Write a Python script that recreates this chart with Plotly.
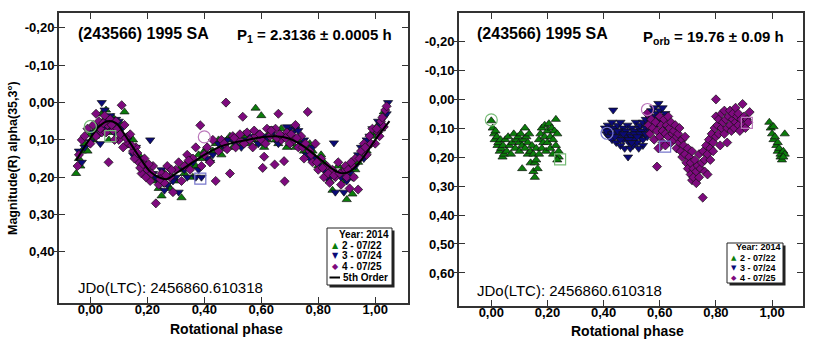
import plotly.graph_objects as go

W, H = 813, 351
def px(x): return x / W
def py(y): return 1 - y / H

# ---------------- data ----------------
phase_ticks = [0.0, 0.2, 0.4, 0.6, 0.8, 1.0]
phase_ticktext = ["0,00", "0,20", "0,40", "0,60", "0,80", "1,00"]
left_mag_ticks = [-0.2, -0.1, 0.0, 0.1, 0.2, 0.3, 0.4]
left_mag_ticktext = ["-0,20", "-0,10", "0,00", "0,10", "0,20", "0,30", "0,40"]
right_mag_ticks = [-0.2, -0.1, 0.0, 0.1, 0.2, 0.3, 0.4, 0.5, 0.6]
right_mag_ticktext = ["-0,20", "-0,10", "0,00", "0,10", "0,20", "0,30", "0,40", "0,50", "0,60"]

# Left panel: rotational period P1
l_green_phase = [-0.05, -0.04, -0.03, -0.02, -0.01, 0.00, 0.01, 0.02, 0.03, 0.04, 0.05, 0.06, 0.07, 0.08, 0.09, 0.10,
                 0.12, 0.13, 0.15, 0.17, 0.19, 0.21, 0.23, 0.25, 0.26, 0.28, 0.30, 0.32, 0.33, 0.35, 0.36, 0.38,
                 0.40, 0.42, 0.44, 0.46, 0.48, 0.50, 0.52, 0.54, 0.56, 0.58, 0.60, 0.61, 0.63, 0.65, 0.67, 0.69,
                 0.71, 0.73, 0.75, 0.77, 0.79, 0.81, 0.83, 0.85, 0.87, 0.89, 0.90, 0.92, 0.93, 0.95, 0.97, 0.99,
                 1.01, 1.03,
                 -0.035, 0.015, 0.035, 0.055, 0.065, 0.085, 0.11, 0.14, 0.16, 0.18, 0.20, 0.22, 0.24, 0.27, 0.29,
                 0.31, 0.34, 0.37, 0.39, 0.41, 0.43, 0.45, 0.47, 0.49, 0.51, 0.53, 0.55, 0.57, 0.59, 0.62, 0.64,
                 0.66, 0.68, 0.70, 0.72, 0.74, 0.76, 0.78, 0.80, 0.82, 0.84, 0.86, 0.88, 0.91, 0.94, 0.96, 0.98,
                 1.00, 1.02]
l_green_mag = [0.19, 0.15, 0.13, 0.11, 0.13, 0.085, 0.10, 0.07, 0.055, 0.03, 0.045, 0.065, 0.08, 0.04, 0.06, 0.075,
               0.025, 0.09, 0.10, 0.14, 0.16, 0.20, 0.21, 0.25, 0.19, 0.23, 0.21, 0.255, 0.19, 0.17, 0.20, 0.14,
               0.13, 0.155, 0.11, 0.14, 0.10, 0.12, 0.09, 0.085, 0.11, 0.015, 0.035, 0.12, 0.08, 0.10, 0.07, 0.12,
               0.09, 0.10, 0.13, 0.11, 0.15, 0.14, 0.19, 0.235, 0.17, 0.21, 0.26, 0.245, 0.18, 0.14, 0.13, 0.08,
               0.06, 0.025,
               0.17, 0.09, 0.08, 0.02, 0.10, 0.05, 0.06, 0.115, 0.13, 0.17, 0.18, 0.20, 0.23, 0.22, 0.20,
               0.18, 0.16, 0.17, 0.15, 0.12, 0.13, 0.10, 0.12, 0.09, 0.10, 0.11, 0.09, 0.10, 0.11, 0.10, 0.09,
               0.11, 0.09, 0.11, 0.12, 0.10, 0.12, 0.13, 0.17, 0.16, 0.21, 0.19, 0.185, 0.20, 0.16, 0.12, 0.11,
               0.09, 0.07]

l_blue_phase = [-0.04, -0.03, -0.02, 0.00, 0.01, 0.03, 0.04, 0.05, 0.06, 0.07, 0.09, 0.11, 0.13, 0.15, 0.17, 0.19,
                0.21, 0.22, 0.24, 0.26, 0.28, 0.30, 0.31, 0.33, 0.35, 0.37, 0.39, 0.41, 0.43, 0.45, 0.47, 0.50,
                0.53, 0.56, 0.59, 0.62, 0.64, 0.66, 0.68, 0.70, 0.72, 0.74, 0.76, 0.78, 0.80, 0.82, 0.84, 0.855,
                0.86, 0.88, 0.89, 0.91, 0.93, 0.95, 0.97, 0.99, 1.01, 1.03, 1.045,
                0.02, 0.035, 0.055, 0.075, 0.085, 0.10, 0.12, 0.16, 0.20, 0.23, 0.25, 0.27, 0.29, 0.34, 0.36,
                0.38, 0.42, 0.48, 0.51, 0.55, 0.58, 0.61, 0.63, 0.67, 0.69, 0.71, 0.73, 0.75, 0.77, 0.79, 0.81,
                0.83, 0.87, 0.90, 0.92, 0.94, 0.96, 0.98, 1.02, 1.04]
l_blue_mag = [0.13, 0.16, 0.12, 0.105, 0.08, 0.085, 0.0, 0.02, 0.05, 0.035, 0.045, 0.07, 0.10, 0.14, 0.15, 0.17,
              0.10, 0.19, 0.21, 0.235, 0.18, 0.20, 0.24, 0.18, 0.15, 0.20, 0.20, 0.15, 0.14, 0.11, 0.12, 0.10,
              0.12, 0.09, 0.11, 0.095, 0.08, 0.11, 0.085, 0.07, 0.07, 0.11, 0.14, 0.12, 0.16, 0.18, 0.20, 0.108,
              0.24, 0.20, 0.24, 0.19, 0.17, 0.12, 0.10, 0.07, 0.05, 0.04, 0.0,
              0.06, 0.11, 0.07, 0.06, 0.08, 0.05, 0.09, 0.12, 0.19, 0.20, 0.18, 0.22, 0.21, 0.20, 0.16,
              0.18, 0.16, 0.10, 0.11, 0.10, 0.08, 0.09, 0.07, 0.09, 0.065, 0.08, 0.075, 0.10, 0.15, 0.15, 0.17,
              0.20, 0.19, 0.21, 0.20, 0.14, 0.15, 0.09, 0.06, 0.03]

l_purple_phase = [-0.045, -0.04, -0.03, -0.02, -0.01, 0.00, 0.01, 0.02, 0.03, 0.04, 0.05, 0.06, 0.064, 0.07, 0.08,
                  0.09, 0.10, 0.11, 0.12, 0.13, 0.14, 0.15, 0.16, 0.17, 0.18, 0.19, 0.20, 0.21, 0.22, 0.23, 0.24,
                  0.25, 0.26, 0.27, 0.28, 0.29, 0.30, 0.31, 0.32, 0.34, 0.35, 0.36, 0.37, 0.386, 0.39, 0.40, 0.41,
                  0.42, 0.44, 0.45, 0.46, 0.476, 0.48, 0.49, 0.50, 0.51, 0.52, 0.535, 0.54, 0.55, 0.57, 0.58, 0.60,
                  0.605, 0.61, 0.62, 0.63, 0.647, 0.65, 0.66, 0.67, 0.68, 0.682, 0.69, 0.70, 0.72, 0.73, 0.74, 0.75,
                  0.763, 0.77, 0.78, 0.79, 0.80, 0.81, 0.82, 0.83, 0.84, 0.85, 0.86, 0.87, 0.88, 0.89, 0.90, 0.91,
                  0.92, 0.93, 0.94, 0.95, 0.96, 0.97, 0.98, 0.99, 1.00, 1.01, 1.02, 1.03, 1.035, 1.04,
                  0.02, 0.035, 0.045, 0.055, 0.075, 0.085, 0.095, 0.105, 0.115, 0.125, 0.145, 0.155, 0.165, 0.175,
                  0.185, 0.195, 0.205, 0.215, 0.245, 0.265, 0.285, 0.33, 0.345, 0.43, 0.47, 0.505, 0.525, 0.56,
                  0.575, 0.595, 0.615, 0.635, 0.655, 0.665, 0.685, 0.705, 0.715, 0.725, 0.745, 0.755, 0.775, 0.795,
                  0.815, 0.835, 0.855, 0.875, 0.895, 0.905, 0.915, 0.925, 0.945, 0.965, 0.985, 1.005, 1.015, 1.025]
l_purple_mag = [0.17, 0.14, 0.10, 0.09, 0.07, 0.11, 0.06, 0.03, 0.05, 0.08, 0.035, 0.06, 0.16, 0.045, 0.075,
                0.05, 0.10, 0.007, 0.06, 0.11, 0.085, 0.13, 0.12, 0.16, 0.19, 0.15, 0.18, 0.21, 0.17, 0.27, 0.22,
                0.19, 0.215, 0.17, 0.20, 0.24, 0.18, 0.16, 0.21, 0.14, 0.18, 0.15, 0.12, 0.061, 0.17, 0.14, 0.12,
                0.16, 0.21, 0.13, 0.10, 0.0, 0.125, 0.19, 0.09, 0.12, 0.10, 0.038, 0.11, 0.08, 0.12, 0.09, 0.10,
                0.175, 0.145, 0.07, 0.09, 0.166, 0.07, 0.03, 0.10, 0.157, 0.211, 0.08, 0.11, 0.06, 0.12, 0.09, 0.15,
                0.025, 0.13, 0.16, 0.11, 0.18, 0.15, 0.20, 0.17, 0.215, 0.18, 0.20, 0.16, 0.22, 0.185, 0.20, 0.23,
                0.17, 0.15, 0.233, 0.13, 0.11, 0.14, 0.09, 0.07, 0.11, 0.08, 0.05, 0.065, 0.02, 0.01,
                0.09, 0.07, 0.055, 0.08, 0.06, 0.10, 0.07, 0.085, 0.12, 0.095, 0.115, 0.15, 0.135, 0.175,
                0.165, 0.20, 0.165, 0.19, 0.205, 0.195, 0.18, 0.17, 0.155, 0.10, 0.11, 0.095, 0.085, 0.10,
                0.075, 0.085, 0.11, 0.075, 0.095, 0.085, 0.095, 0.085, 0.10, 0.095, 0.12, 0.11, 0.14, 0.16,
                0.175, 0.19, 0.195, 0.19, 0.17, 0.18, 0.16, 0.20, 0.15, 0.12, 0.11, 0.07, 0.09, 0.04]

fit_phase = [-0.05, 0.00, 0.03, 0.06, 0.09, 0.12, 0.15, 0.18, 0.21, 0.24, 0.27, 0.30, 0.35, 0.40, 0.45, 0.50,
             0.55, 0.60, 0.65, 0.70, 0.75, 0.80, 0.85, 0.88, 0.91, 0.95, 1.00, 1.05]
fit_mag = [0.155, 0.095, 0.065, 0.050, 0.055, 0.085, 0.120, 0.155, 0.185, 0.200, 0.205, 0.190, 0.165, 0.140,
           0.120, 0.108, 0.100, 0.093, 0.090, 0.097, 0.118, 0.148, 0.178, 0.189, 0.185, 0.155, 0.100, 0.050]

# start/end markers, left panel
l_circle_phase = [0.00, 0.40]
l_circle_mag = [0.064, 0.092]
l_circle_color = ["#77bb77", "#bb77bb"]
l_square_phase = [0.07, 0.386]
l_square_mag = [0.09, 0.204]
l_square_color = ["#77bb77", "#7777cc"]

# Right panel: orbital period
r_green_phase = [0.00, 0.005, 0.01, 0.012, 0.015, 0.02, 0.022, 0.025, 0.03, 0.033, 0.035, 0.04, 0.042, 0.045, 0.05,
                 0.055, 0.06, 0.065, 0.07, 0.075, 0.08, 0.085, 0.09, 0.095, 0.10, 0.10, 0.105, 0.11, 0.11, 0.115,
                 0.12, 0.12, 0.125, 0.13, 0.13, 0.135, 0.14, 0.14, 0.145, 0.15, 0.15, 0.155, 0.155, 0.16, 0.16,
                 0.165, 0.17, 0.17, 0.175, 0.18, 0.18, 0.185, 0.19, 0.19, 0.195, 0.20, 0.20, 0.205, 0.21, 0.21,
                 0.215, 0.22, 0.22, 0.225, 0.23, 0.23, 0.235, 0.24, 0.24, 0.235,
                 0.99, 0.995, 1.00, 1.005, 1.005, 1.01, 1.015, 1.02, 1.02, 1.025, 1.03, 1.03, 1.035, 1.04, 1.045,
                 1.045, 1.04]
r_green_mag = [0.075, 0.10, 0.12, 0.14, 0.11, 0.13, 0.16, 0.15, 0.18, 0.14, 0.17, 0.20, 0.16, 0.19, 0.14,
               0.18, 0.13, 0.16, 0.19, 0.15, 0.12, 0.17, 0.14, 0.13, 0.15, 0.18, 0.12, 0.16, 0.24, 0.14,
               0.10, 0.17, 0.13, 0.19, 0.15, 0.12, 0.18, 0.22, 0.16, 0.25, 0.19, 0.27, 0.22, 0.21, 0.17,
               0.24, 0.14, 0.19, 0.12, 0.17, 0.10, 0.15, 0.13, 0.09, 0.18, 0.11, 0.15, 0.085, 0.13, 0.17,
               0.10, 0.14, 0.19, 0.11, 0.07, 0.16, 0.12, 0.18, 0.20, 0.21,
               0.08, 0.10, 0.12, 0.095, 0.14, 0.13, 0.16, 0.15, 0.18, 0.17, 0.20, 0.19, 0.21, 0.18, 0.12,
               0.19, 0.20]

r_blue_phase = [0.405, 0.41, 0.415, 0.42, 0.42, 0.425, 0.43, 0.43, 0.434, 0.44, 0.44, 0.445, 0.45, 0.45, 0.455,
                0.46, 0.46, 0.465, 0.47, 0.47, 0.475, 0.48, 0.48, 0.485, 0.487, 0.49, 0.49, 0.495, 0.50, 0.50,
                0.505, 0.51, 0.51, 0.515, 0.52, 0.52, 0.525, 0.53, 0.53, 0.535, 0.54, 0.54, 0.545, 0.55, 0.55,
                0.555, 0.56, 0.56, 0.565, 0.57, 0.57, 0.575, 0.58, 0.58, 0.585, 0.59, 0.595, 0.60, 0.60, 0.605,
                0.61, 0.615, 0.62, 0.54, 0.525,
                0.41, 0.43, 0.45, 0.47, 0.49, 0.51, 0.53, 0.55, 0.50, 0.46, 0.44, 0.52, 0.57, 0.59, 0.60]
r_blue_mag = [0.10, 0.12, 0.09, 0.11, 0.13, 0.10, 0.14, 0.08, 0.038, 0.12, 0.10, 0.15, 0.09, 0.13, 0.11,
              0.16, 0.08, 0.12, 0.10, 0.14, 0.17, 0.11, 0.13, 0.09, 0.20, 0.15, 0.12, 0.17, 0.10, 0.13,
              0.16, 0.11, 0.14, 0.08, 0.12, 0.15, 0.10, 0.13, 0.09, 0.11, 0.14, 0.08, 0.12, 0.10, 0.07,
              0.13, 0.09, 0.06, 0.11, 0.04, 0.08, 0.06, 0.10, 0.03, 0.07, 0.05, 0.015, 0.08, 0.04, 0.06,
              0.03, 0.09, 0.05, 0.16, 0.17,
              0.11, 0.12, 0.11, 0.12, 0.14, 0.12, 0.12, 0.12, 0.15, 0.14, 0.13, 0.13, 0.10, 0.08, 0.11]

r_purple_phase = [0.555, 0.56, 0.565, 0.57, 0.575, 0.58, 0.585, 0.59, 0.59, 0.595, 0.60, 0.60, 0.605, 0.61, 0.61,
                  0.615, 0.62, 0.62, 0.625, 0.63, 0.63, 0.635, 0.64, 0.64, 0.645, 0.65, 0.65, 0.655, 0.66, 0.66,
                  0.665, 0.67, 0.67, 0.675, 0.68, 0.68, 0.685, 0.69, 0.69, 0.695, 0.70, 0.70, 0.705, 0.71, 0.71,
                  0.715, 0.715, 0.72, 0.72, 0.725, 0.73, 0.73, 0.735, 0.74, 0.74, 0.745, 0.75, 0.753, 0.755, 0.76,
                  0.76, 0.765, 0.77, 0.77, 0.775, 0.78, 0.78, 0.785, 0.79, 0.79, 0.795, 0.80, 0.80, 0.80, 0.805,
                  0.81, 0.81, 0.815, 0.82, 0.82, 0.825, 0.83, 0.83, 0.835, 0.84, 0.84, 0.845, 0.85, 0.85, 0.855,
                  0.86, 0.86, 0.865, 0.87, 0.87, 0.875, 0.88, 0.88, 0.885, 0.89, 0.895, 0.90, 0.90, 0.905, 0.91,
                  0.915, 0.92]
r_purple_mag = [0.05, 0.09, 0.12, 0.07, 0.10, 0.14, 0.08, 0.11, 0.233, 0.17, 0.06, 0.13, 0.09, 0.11, 0.15,
                0.07, 0.12, 0.16, 0.09, 0.06, 0.13, 0.10, 0.15, 0.08, 0.12, 0.11, 0.14, 0.09, 0.13, 0.17,
                0.12, 0.15, 0.10, 0.18, 0.14, 0.20, 0.16, 0.19, 0.13, 0.22, 0.17, 0.24, 0.20, 0.22, 0.26,
                0.18, 0.28, 0.24, 0.27, 0.21, 0.25, 0.29, 0.23, 0.27, 0.19, 0.24, 0.22, 0.34, 0.18, 0.21,
                0.25, 0.16, 0.19, 0.26, 0.14, 0.17, 0.21, 0.12, 0.15, 0.18, 0.10, 0.001, 0.13, 0.06, 0.09,
                0.12, 0.07, 0.16, 0.05, 0.10, 0.08, 0.12, 0.04, 0.07, 0.10, 0.15, 0.06, 0.09, 0.04, 0.11,
                0.07, 0.05, 0.10, 0.08, 0.03, 0.06, 0.09, 0.05, 0.11, 0.07, 0.017, 0.06, 0.09, 0.10, 0.07,
                0.08, 0.045]

r_circle_phase = [0.00, 0.412, 0.556]
r_circle_mag = [0.072, 0.118, 0.036]
r_circle_color = ["#77bb77", "#7777cc", "#bb77bb"]
r_square_phase = [0.245, 0.619, 0.91]
r_square_mag = [0.208, 0.164, 0.082]
r_square_color = ["#77bb77", "#7777cc", "#bb77bb"]

series_names = ["2 - 07/22", "3 - 07/24", "4 - 07/25"]
GREEN, BLUE, PURPLE = "#0b7d0b", "#0a0a78", "#7e0a7e"

# ---------------- figure ----------------
fig = go.Figure()

def add_points(xs, ys, symbol, color, size, xa, ya, name):
    fig.add_trace(go.Scatter(x=xs, y=ys, mode="markers", name=name, showlegend=False,
                             xaxis=xa, yaxis=ya,
                             marker=dict(symbol=symbol, size=size, color=color,
                                         line=dict(color="#111111", width=0.7))))

def add_open(xs, ys, symbol, colors, size, xa, ya):
    fig.add_trace(go.Scatter(x=xs, y=ys, mode="markers", showlegend=False, xaxis=xa, yaxis=ya,
                             marker=dict(symbol=symbol, size=size, color=colors,
                                         line=dict(color=colors, width=1.2))))

add_points(l_green_phase, l_green_mag, "triangle-up", GREEN, 8, "x", "y", series_names[0])
add_points(l_blue_phase, l_blue_mag, "triangle-down", BLUE, 8, "x", "y", series_names[1])
add_points(l_purple_phase, l_purple_mag, "diamond", PURPLE, 7, "x", "y", series_names[2])
fig.add_trace(go.Scatter(x=fit_phase, y=fit_mag, mode="lines", name="5th Order", showlegend=False,
                         line=dict(color="black", width=2, shape="spline"), xaxis="x", yaxis="y"))
add_open(l_circle_phase, l_circle_mag, "circle-open", l_circle_color, 12, "x", "y")
add_open(l_square_phase, l_square_mag, "square-open", l_square_color, 11, "x", "y")

add_points(r_green_phase, r_green_mag, "triangle-up", GREEN, 8, "x2", "y2", series_names[0])
add_points(r_blue_phase, r_blue_mag, "triangle-down", BLUE, 8, "x2", "y2", series_names[1])
add_points(r_purple_phase, r_purple_mag, "diamond", PURPLE, 7, "x2", "y2", series_names[2])
add_open(r_circle_phase, r_circle_mag, "circle-open", r_circle_color, 12, "x2", "y2")
add_open(r_square_phase, r_square_mag, "square-open", r_square_color, 11, "x2", "y2")

tickfont = dict(family="Liberation Sans, Arial, sans-serif", size=13, color="black", weight="bold")
axcommon = dict(showline=True, linewidth=2, linecolor="#333333", mirror="ticks", ticks="inside",
                ticklen=6, tickwidth=1, tickcolor="#333333", showgrid=False, zeroline=False,
                tickfont=tickfont)

LX = [px(59), px(408)]
RX = [px(459), px(803)]
LY = [py(303), py(13)]
RY = [py(306), py(13)]
L_YR = [0.537, -0.24]
R_YR = [0.714, -0.297]

fig.update_layout(
    width=W, height=H, margin=dict(l=0, r=0, t=0, b=0),
    paper_bgcolor="white", plot_bgcolor="white", showlegend=False,
    xaxis=dict(domain=LX, range=[-0.11, 1.115], tickvals=phase_ticks, ticktext=phase_ticktext,
               anchor="y", ticklabelstandoff=-7, **axcommon),
    yaxis=dict(domain=LY, range=L_YR, tickvals=left_mag_ticks, ticktext=left_mag_ticktext,
               anchor="x", **axcommon),
    xaxis2=dict(domain=RX, range=[-0.115, 1.11], tickvals=phase_ticks, ticktext=phase_ticktext,
                anchor="y2", ticklabelstandoff=-7, **axcommon),
    yaxis2=dict(domain=RY, range=R_YR, tickvals=right_mag_ticks, ticktext=right_mag_ticktext,
                anchor="x2", **axcommon),
    yaxis3=dict(overlaying="y", anchor="x", side="left", range=L_YR, tickvals=left_mag_ticks,
                ticks="outside", ticklen=5, tickcolor="#333333", showticklabels=False,
                showline=False, showgrid=False, zeroline=False),
    yaxis4=dict(overlaying="y2", anchor="x2", side="left", range=R_YR, tickvals=right_mag_ticks,
                ticks="outside", ticklen=5, tickcolor="#333333", showticklabels=False,
                showline=False, showgrid=False, zeroline=False),
)
# invisible traces so the overlay axes are drawn
fig.add_trace(go.Scatter(x=[None], y=[None], xaxis="x", yaxis="y3", showlegend=False, hoverinfo="skip"))
fig.add_trace(go.Scatter(x=[None], y=[None], xaxis="x2", yaxis="y4", showlegend=False, hoverinfo="skip"))

BF = "Liberation Sans, Arial, sans-serif"
def ann(x, y, text, size, bold=True, xanchor="left", yanchor="middle", color="black", angle=0, family=BF):
    fig.add_annotation(x=px(x), y=py(y), xref="paper", yref="paper", text=text, showarrow=False,
                       xanchor=xanchor, yanchor=yanchor, textangle=angle,
                       font=dict(family=family, size=size, color=color,
                                 weight="bold" if bold else "normal"))

# headers
ann(76, 34, "(243566) 1995 SA", 16)
ann(394, 36, "P<sub>1</sub> = 2.3136 ± 0.0005 h", 15, xanchor="right")
ann(475, 34, "(243566) 1995 SA", 16)
ann(786, 37, "P<sub>orb</sub> = 19.76 ± 0.09 h", 15, xanchor="right")
ann(76, 287, "JDo(LTC): 2456860.610318", 15, bold=False)
ann(475, 290, "JDo(LTC): 2456860.610318", 15, bold=False)

# axis titles
ann(226, 329, "Rotational phase", 14, xanchor="center")
ann(627, 331, "Rotational phase", 14, xanchor="center")
ann(13, 158, "Magnitude(R) alpha(35,3°)", 12.5, xanchor="center", angle=-90)

# legends (box + shadow)
def legend_box(x0, y0, x1, y1):
    fig.add_shape(type="rect", xref="paper", yref="paper", x0=px(x0 + 2.5), x1=px(x1 + 2.5),
                  y0=py(y1 + 2.5), y1=py(y0 + 2.5), fillcolor="#222222", line=dict(width=0), layer="above")
    fig.add_shape(type="rect", xref="paper", yref="paper", x0=px(x0), x1=px(x1), y0=py(y1), y1=py(y0),
                  fillcolor="white", line=dict(color="#222222", width=1), layer="above")

SYM = "DejaVu Sans, sans-serif"
legend_box(327, 228, 392, 285)
ann(391, 234.5, "Year: 2014", 10, xanchor="right")
rows_l = [245, 255.5, 266.5]
syms = ["▲", "▼", "◆"]
cols = [GREEN, BLUE, PURPLE]
for i in range(3):
    ann(335, rows_l[i], syms[i], 8, xanchor="center", color=cols[i], family=SYM)
    ann(340, rows_l[i], series_names[i], 10)
fig.add_shape(type="line", xref="paper", yref="paper", x0=px(329.5), x1=px(340), y0=py(277.5), y1=py(277.5),
              line=dict(color="black", width=2), layer="above")
ann(340.5, 277.5, "5th Order", 10)

legend_box(727, 243, 783, 283)
ann(782.5, 247, "Year: 2014", 9, xanchor="right")
rows_r = [257.5, 267.5, 277.5]
for i in range(3):
    ann(734, rows_r[i], syms[i], 7, xanchor="center", color=cols[i], family=SYM)
    ann(738, rows_r[i], series_names[i], 9)

fig.write_html("out.html")
